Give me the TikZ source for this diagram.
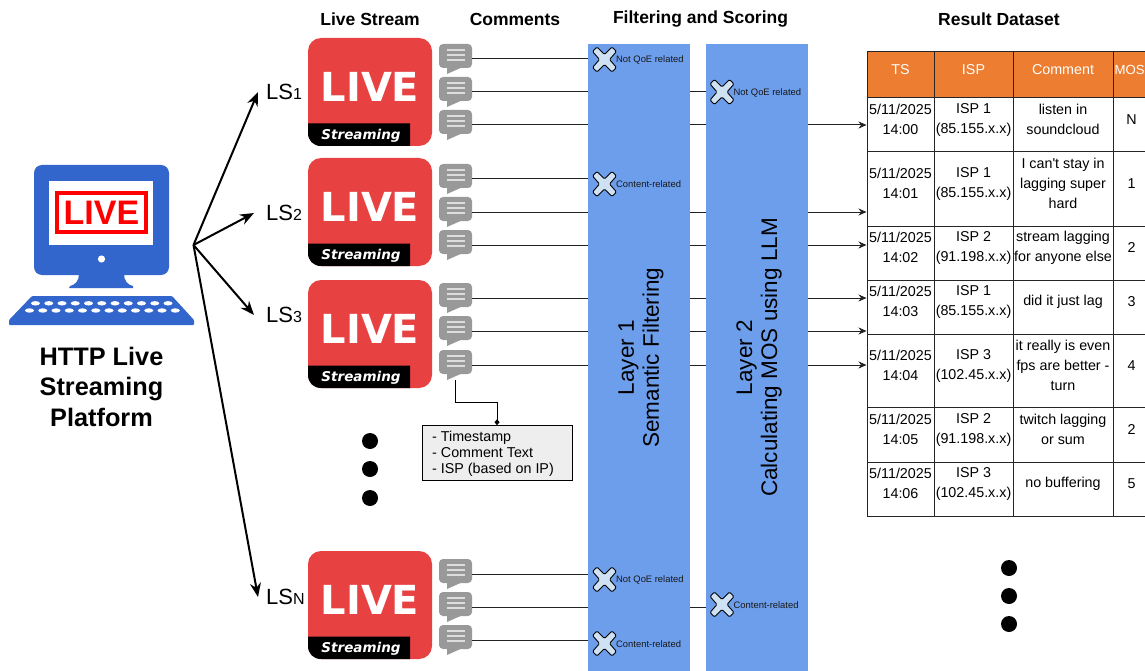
\documentclass[tikz,border=0pt]{standalone}
\usepackage{fontspec}
\setmainfont{Liberation Sans}
\newfontfamily\dvfont{DejaVu Sans}
\newfontfamily\plainsans{Liberation Sans}
\usetikzlibrary{arrows.meta,calc}
\definecolor{livered}{HTML}{E84142}
\definecolor{bubblegray}{HTML}{999999}
\definecolor{bubbleline}{HTML}{DDDDDD}
\definecolor{layerblue}{HTML}{6D9EEB}
\definecolor{crossfill}{HTML}{CFE2F3}
\definecolor{headorange}{HTML}{ED7D31}
\definecolor{pcblue}{HTML}{3366CC}
\definecolor{infofill}{HTML}{EEEEEE}
\definecolor{wire}{HTML}{222222}
\newcommand\fs[2]{\fontsize{#1}{#2}\selectfont}
\tikzset{
  title/.style={font=\bfseries\fs{17.5}{18},inner sep=0pt},
  cell/.style={font=\fs{14.3}{20},align=center,inner sep=0pt,yshift=-0.5pt},
  headcell/.style={font=\fs{14.3}{20},text=white,inner sep=0pt,yshift=-0.5pt},
  wireline/.style={draw=wire,line width=1pt},
  toTable/.style={wireline,-{Stealth[length=8pt,width=7pt]}},
  spoke/.style={line width=2pt,-{Stealth[length=14pt,width=11pt]}},
  lslabel/.style={anchor=west,inner ysep=0pt},
  bubblenode/.style={minimum width=33pt,minimum height=30pt,inner sep=0pt},
  layerbox/.style={fill=layerblue,rotate=90,minimum width=627pt,minimum height=102pt,inner sep=0pt},
  layertext/.style={rotate=90,inner sep=0pt,align=center,font=\fs{22.5}{25}},
  droplabel/.style={anchor=west,inner sep=0pt,font=\fs{9.4}{11},text=black!90},
  bigdot/.style={circle,fill=black,minimum size=16pt,inner sep=0pt},
  gridline/.style={draw=black!85,line width=1pt},
}
\newcommand\liveicon[2]{% name, top y
  \node[fill=livered,rounded corners=13pt,minimum width=124pt,minimum height=108pt,inner sep=0pt] (#1) at (370,#2+54) {};
  \fill[black] (308,#2+85.5) -- (410,#2+85.5) -- (410,#2+108) -- (321,#2+108) .. controls (313.5,#2+108) and (308,#2+102.5) .. (308,#2+95) -- cycle;
  \node[inner sep=0pt,text=white,font=\dvfont\bfseries\fs{40}{40}] (#1word) at (370,#2+49) {LIVE};
  \node[inner sep=0pt,text=white,font=\dvfont\bfseries\itshape\fs{13.5}{14}] (#1tag) at (361,#2+97.5) {Streaming};
}
\newcommand\bubble[2]{% name, connector y
  \node[bubblenode] (#1) at (455.5,#2) {};
  \begin{scope}[shift={(455.5,#2)}]
    \fill[bubblegray,rounded corners=4pt] (-16.5,-15) rectangle (16.5,9);
    \fill[bubblegray] (-8.5,7) -- (-8.5,15) -- (5,9) -- cycle;
    \draw[bubbleline,line width=1.2pt] (-9,-9) -- (9.5,-9) (-9,-4) -- (9.5,-4) (-9,1) -- (9.5,1);
  \end{scope}
}
\newcommand\crossmark[4]{% name, x, y, label
  \begin{scope}[shift={(#2,#3)}]
    \draw[fill=crossfill,draw=black,line width=0.9pt,rounded corners=1.2pt]
      (0,-5) -- (7.5,-12.5) -- (12,-8) -- (5,0) -- (12,8) -- (7.5,12.5) -- (0,5) -- (-7.5,12.5) -- (-12,8) -- (-5,0) -- (-12,-8) -- (-7.5,-12.5) -- cycle;
  \end{scope}
  \node[droplabel] (#1) at (#2+11.5,#3+0.5) {#4};
}
\begin{document}
\begin{tikzpicture}[x=1pt,y=-1pt]
\useasboundingbox (0,0) rectangle (1145,671);
% titles
\node[title] (t1) at (370,19) {Live Stream};
\node[title] (t2) at (515,19) {Comments};
\node[title] (t3) at (700.5,19) {Filtering and Scoring};
\node[title] (t4) at (999,19) {Result Dataset};
% computer
\fill[pcblue,rounded corners=8pt] (34,165) rectangle (169,275);
\fill[pcblue] (79,274) .. controls (79,281) and (75,285) .. (70,286) -- (69,288) -- (133,288) -- (133,286) .. controls (128,285) and (124,281) .. (124,274) -- cycle;
\fill[white] (49,181) rectangle (153,245);
\draw[red,line width=4.4pt] (57.2,193.2) rectangle (145.8,231.8);
\node[inner sep=0pt,text=red,font=\bfseries\fs{34}{34}] (pcword) at (101.5,212.5) {LIVE};
\fill[white] (101.5,259) circle (3.6);
\fill[pcblue,rounded corners=1pt] (32,296) -- (172,296) -- (194,320) -- (194,325) -- (9,325) -- (9,320) -- cycle;
\foreach \i in {0,...,10} \fill[white] (35.5+\i*13.25,303.3) ellipse (4.5 and 2.2);
\foreach \i in {0,...,11} \fill[white] (29.5+\i*13.25,310.5) ellipse (4.5 and 2.2);
\node[inner sep=0pt,align=center,font=\bfseries\fs{25.3}{30.5}] (platform) at (101.5,386.5) {HTTP Live\\Streaming\\Platform};
% stream labels and spokes
\coordinate (hub) at (193.5,245);
\node[lslabel,inner xsep=8pt] (ls1) at (258,92) {\fs{22}{24}LS\fs{16}{24}1};
\node[lslabel,inner xsep=12pt] (ls2) at (254,213) {\fs{22}{24}LS\fs{16}{24}2};
\node[lslabel,inner xsep=12pt] (ls3) at (254,315) {\fs{22}{24}LS\fs{16}{24}3};
\node[lslabel,inner xsep=8pt] (lsn) at (258,597) {\fs{22}{24}LS\fs{16}{24}N};
\draw[spoke] (hub) -- (ls1.west);
\draw[spoke] (hub) -- (ls2.west);
\draw[spoke] (hub) -- (ls3.west);
\draw[spoke] (hub) -- (lsn.west);
% live icons
\liveicon{live1}{38}
\liveicon{live2}{158}
\liveicon{live3}{280}
\liveicon{liven}{551}
% bubbles
\bubble{b11}{59}\bubble{b12}{92}\bubble{b13}{125}
\bubble{b21}{179}\bubble{b22}{212}\bubble{b23}{245}
\bubble{b31}{298}\bubble{b32}{331}\bubble{b33}{365}
\bubble{bn1}{574}\bubble{bn2}{607}\bubble{bn3}{640}
% layer anchors
\coordinate (l1c) at (639,357.5);
\coordinate (l2c) at (757,357.5);
\coordinate (tl) at (866.5,300);
% connectors
\draw[wireline] (b11.east) -- (b11.east -| l1c);
\draw[wireline] (b12.east) -- (b12.east -| l2c);
\draw[toTable] (b13.east) -- (b13.east -| tl);
\draw[wireline] (b21.east) -- (b21.east -| l1c);
\draw[toTable] (b22.east) -- (b22.east -| tl);
\draw[toTable] (b23.east) -- (b23.east -| tl);
\draw[toTable] (b31.east) -- (b31.east -| tl);
\draw[toTable] (b32.east) -- (b32.east -| tl);
\draw[toTable] (b33.east) -- (b33.east -| tl);
\draw[wireline] (bn1.east) -- (bn1.east -| l1c);
\draw[wireline] (bn2.east) -- (bn2.east -| l2c);
\draw[wireline] (bn3.east) -- (bn3.east -| l1c);
% layers
\node[layerbox] (l1) at (l1c) {};
\node[layerbox] (l2) at (l2c) {};
\node[layertext] (l1t) at (641,357.5) {Layer 1\\Semantic Filtering};
\node[layertext] (l2t) at (759,357.5) {Layer 2\\Calculating MOS using LLM};
% drop marks
\crossmark{d1}{604.5}{59.5}{Not QoE related}
\crossmark{d2}{722}{92}{Not QoE related}
\crossmark{d3}{604.5}{184}{Content-related}
\crossmark{d4}{604.5}{579.5}{Not QoE related}
\crossmark{d5}{722}{604.5}{Content-related}
\crossmark{d6}{604.5}{643.5}{Content-related}
% info box
\node[draw=black,fill=infofill,line width=1pt,minimum width=150pt,minimum height=54.5pt,inner sep=0pt] (info) at (497,453) {};
\node[inner sep=0pt,anchor=west,align=left,font=\fs{14.3}{16}] (infot) at (432,453.5) {- Timestamp\\- Comment Text\\- ISP (based on IP)};
\draw[draw=black,line width=1pt,-{Diamond[length=6pt,width=5pt]}] (b33.south) -- ++(0,22) -| (info.north);
% ellipsis dots
\node[bigdot] (e1) at (370,441) {};
\node[bigdot] (e2) at (370,469) {};
\node[bigdot] (e3) at (370,498) {};
\node[bigdot] (f1) at (1009,568) {};
\node[bigdot] (f2) at (1009,596) {};
\node[bigdot] (f3) at (1009,624) {};
% table
\fill[headorange] (867,52) rectangle (1145,98);
\foreach \yy in {52,98,152,226,280,334,407,462,516} \draw[gridline] (867,\yy) -- (1145,\yy);
\foreach \xx in {867,934,1013,1113} \draw[gridline] (\xx,52) -- (\xx,516);
\node[headcell] (hts) at (900.5,69) {TS};
\node[headcell] (hisp) at (973.5,69) {ISP};
\node[headcell] (hcom) at (1063,69) {Comment};
\node[headcell,anchor=west,font=\fs{13.2}{20}] (hmos) at (1114.5,69) {MOS};
% rows
\node[cell] (a1) at (900.5,119) {5/11/2025\\14:00};
\node[cell] (b1) at (973.5,119) {ISP 1\\(85.155.x.x)};
\node[cell] (c1) at (1063,119) {listen in\\soundcloud};
\node[cell] (m1) at (1131.5,119) {N};
\node[cell] (a2) at (900.5,183) {5/11/2025\\14:01};
\node[cell] (b2) at (973.5,183) {ISP 1\\(85.155.x.x)};
\node[cell] (c2) at (1063,183) {I can{\plainsans\fs{14.3}{20}'}t stay in\\lagging super\\hard};
\node[cell] (m2) at (1131.5,183) {1};
\node[cell] (a3) at (900.5,247) {5/11/2025\\14:02};
\node[cell] (b3) at (973.5,247) {ISP 2\\(91.198.x.x)};
\node[cell] (c3) at (1063,247) {stream lagging\\for anyone else};
\node[cell] (m3) at (1131.5,247) {2};
\node[cell] (a4) at (900.5,301) {5/11/2025\\14:03};
\node[cell] (b4) at (973.5,301) {ISP 1\\(85.155.x.x)};
\node[cell] (c4) at (1063,301) {did it just lag};
\node[cell] (m4) at (1131.5,301) {3};
\node[cell] (a5) at (900.5,365) {5/11/2025\\14:04};
\node[cell] (b5) at (973.5,365) {ISP 3\\(102.45.x.x)};
\node[cell] (c5) at (1063,365) {it really is even\\fps are better -\\turn};
\node[cell] (m5) at (1131.5,365) {4};
\node[cell] (a6) at (900.5,429) {5/11/2025\\14:05};
\node[cell] (b6) at (973.5,429) {ISP 2\\(91.198.x.x)};
\node[cell] (c6) at (1063,429) {twitch lagging\\or sum};
\node[cell] (m6) at (1131.5,429) {2};
\node[cell] (a7) at (900.5,483) {5/11/2025\\14:06};
\node[cell] (b7) at (973.5,483) {ISP 3\\(102.45.x.x)};
\node[cell] (c7) at (1063,483) {no buffering};
\node[cell] (m7) at (1131.5,483) {5};
\end{tikzpicture}
\end{document}
